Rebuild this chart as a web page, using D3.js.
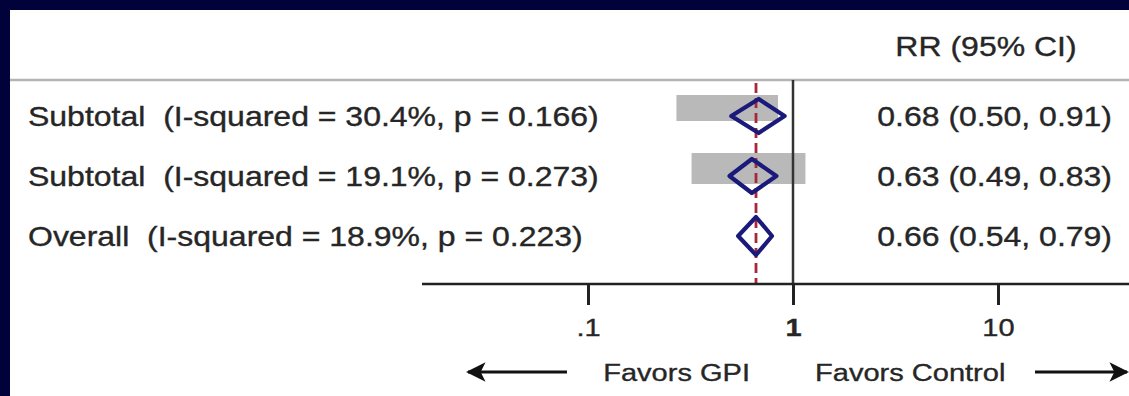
<!DOCTYPE html>
<html>
<head>
<meta charset="utf-8">
<script src="https://cdn.jsdelivr.net/npm/d3@7/dist/d3.min.js"></script>
<style>
  html, body { margin: 0; padding: 0; background: #02023a; }
  svg { display: block; }
  text { font-family: "Liberation Sans", Arial, sans-serif; fill: #262626; stroke: #262626; stroke-width: 0.35px; white-space: pre; }
</style>
</head>
<body>
<svg id="chart" width="1129" height="396"></svg>
<script>
// ---- data ----
const labels = [
  "Subtotal  (I-squared = 30.4%, p = 0.166)",
  "Subtotal  (I-squared = 19.1%, p = 0.273)",
  "Overall  (I-squared = 18.9%, p = 0.223)"
];
const rr   = [0.68, 0.63, 0.66];
const ciLo = [0.50, 0.49, 0.54];
const ciHi = [0.91, 0.83, 0.79];
const rrText = ["0.68 (0.50, 0.91)", "0.63 (0.49, 0.83)", "0.66 (0.54, 0.79)"];
const boxLo = [0.27, 0.32, null];
const boxHi = [0.845, 1.15, null];
const overallRR = 0.66;
const tickValues = [0.1, 1, 10];
const tickLabels = [".1", "1", "10"];
const header = "RR (95% CI)";
const favorsLeft = "Favors GPI";
const favorsRight = "Favors Control";

// ---- layout ----
const svg = d3.select("#chart");
const W = 1129, H = 396;
const FS = 27, SX = 1.185, FS2 = 24.5;

svg.append("rect").attr("x", 10).attr("y", 10).attr("width", W - 10).attr("height", H - 10).attr("fill", "#ffffff");

const x = d3.scaleLog().domain([0.1, 10]).range([588, 998]);
const y = d3.scalePoint().domain(d3.range(labels.length)).range([116, 236]);
const axisY = 284, topY = 80;

function stretchedText(g, tx, ty, str, anchor, size, weight) {
  return g.append("text")
    .attr("xml:space", "preserve")
    .attr("transform", `translate(${tx},${ty}) scale(${SX},1)`)
    .attr("text-anchor", anchor || "start")
    .attr("font-size", size || FS)
    .attr("font-weight", weight || "normal")
    .text(str);
}

// header
stretchedText(svg, 986, 56, header, "middle");
svg.append("line").attr("x1", 10).attr("x2", W).attr("y1", topY).attr("y2", topY)
  .attr("stroke", "#b4b4b4").attr("stroke-width", 2.5);

// grey boxes
const idx = d3.range(labels.length);
svg.selectAll("rect.box").data(idx.filter(i => boxLo[i] != null)).join("rect")
  .attr("class", "box")
  .attr("x", i => x(boxLo[i]))
  .attr("width", i => x(boxHi[i]) - x(boxLo[i]))
  .attr("y", (i, k) => y(i) - (k === 0 ? 21 : 23))
  .attr("height", (i, k) => k === 0 ? 26 : 31)
  .attr("fill", "#b9b9b9");

// null line (RR = 1)
svg.append("line").attr("x1", x(1)).attr("x2", x(1)).attr("y1", topY).attr("y2", axisY)
  .attr("stroke", "#333").attr("stroke-width", 2.5);

// overall dashed line
svg.append("line").attr("x1", x(overallRR)).attr("x2", x(overallRR)).attr("y1", topY + 3).attr("y2", axisY)
  .attr("stroke", "#a8283a").attr("stroke-width", 2.8).attr("stroke-dasharray", "10,5");

// diamonds
svg.selectAll("path.diamond").data(idx).join("path")
  .attr("class", "diamond")
  .attr("d", i => {
    const cy = y(i), h = i === 2 ? 19 : 17;
    return `M${x(ciLo[i])},${cy} L${x(rr[i])},${cy - h} L${x(ciHi[i])},${cy} L${x(rr[i])},${cy + h} Z`;
  })
  .attr("fill", "none").attr("stroke", "#1a1a7a").attr("stroke-width", 4.2)
  .attr("stroke-linejoin", "round");

// row labels and values
idx.forEach(i => {
  stretchedText(svg, 28, y(i) + 10, labels[i], "start");
  stretchedText(svg, 1112, y(i) + 10, rrText[i], "end");
});

// axis
const axis = d3.axisBottom(x).tickValues(tickValues)
  .tickFormat((d, i) => tickLabels[i]).tickSize(21).tickSizeOuter(0).tickPadding(14);
const ag = svg.append("g").attr("transform", `translate(0,${axisY})`).call(axis);
ag.select(".domain").attr("d", `M422,0H${W}`).attr("stroke", "#222").attr("stroke-width", 2.5);
ag.selectAll(".tick line").attr("stroke", "#222").attr("stroke-width", 3);
ag.selectAll(".tick text")
  .attr("font-size", FS2).attr("fill", "#262626")
  .attr("font-family", "Liberation Sans, Arial, sans-serif")
  .attr("font-weight", d => d === 1 ? "bold" : "normal")
  .attr("transform", `scale(${SX},1)`);

// favors labels and arrows
const arrowY = 372;
stretchedText(svg, 750, arrowY + 9, favorsLeft, "end", FS2);
stretchedText(svg, 815, arrowY + 9, favorsRight, "start", FS2);

const defs = svg.append("defs");
defs.append("marker").attr("id", "ah").attr("viewBox", "0 0 10 10")
  .attr("refX", 9).attr("refY", 5).attr("markerWidth", 8).attr("markerHeight", 6.5)
  .attr("markerUnits", "strokeWidth").attr("orient", "auto")
  .append("path").attr("d", "M0,0 L10,5 L0,10 L2.5,5 Z").attr("fill", "#111");

svg.append("line").attr("x1", 567).attr("x2", 468).attr("y1", arrowY).attr("y2", arrowY)
  .attr("stroke", "#111").attr("stroke-width", 3).attr("marker-end", "url(#ah)");
svg.append("line").attr("x1", 1035).attr("x2", 1127).attr("y1", arrowY).attr("y2", arrowY)
  .attr("stroke", "#111").attr("stroke-width", 3).attr("marker-end", "url(#ah)");
</script>
</body>
</html>
